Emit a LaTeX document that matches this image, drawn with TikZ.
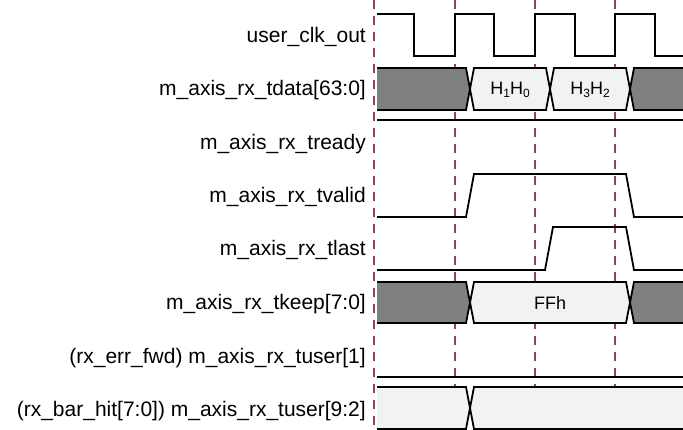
\documentclass[tikz,border=0pt]{standalone}
\usepackage{fontspec}
\setmainfont{Liberation Sans}
\definecolor{gridred}{HTML}{9A4048}
\definecolor{busdark}{HTML}{808080}
\definecolor{buslight}{HTML}{F2F2F2}
\newcommand{\subd}[1]{\raisebox{-0.3ex}{\fontsize{12}{14}\selectfont #1}}
\tikzset{
  sig/.style={line width=1.8pt, line join=miter},
  grid/.style={gridred, line width=1.3pt, dash pattern=on 9pt off 7pt},
  lbl/.style={anchor=east, font=\fontsize{21}{25}\selectfont, inner sep=0pt},
  dat/.style={font=\fontsize{18}{22}\selectfont, inner sep=0pt},
  darkbus/.style={sig, fill=busdark},
  lightbus/.style={sig, fill=buslight},
}
\begin{document}
\begin{tikzpicture}[x=1pt,y=-1pt]
\useasboundingbox (0,0) rectangle (683,430);
\clip (0,0) rectangle (683,430);
% grid lines
\foreach \gx in {374,455,535,615}
  \draw[grid] (\gx,0) -- (\gx,430);
% labels
\node[lbl] (l1) at (366,37) {user\_clk\_out};
\node[lbl] (l2) at (366,90) {m\_axis\_rx\_tdata[63:0]};
\node[lbl] (l3) at (366,144) {m\_axis\_rx\_tready};
\node[lbl] (l4) at (366,197) {m\_axis\_rx\_tvalid};
\node[lbl] (l5) at (366,250) {m\_axis\_rx\_tlast};
\node[lbl] (l6) at (366,304) {m\_axis\_rx\_tkeep[7:0]};
\node[lbl] (l7) at (366,358) {(rx\_err\_fwd) m\_axis\_rx\_tuser[1]};
\node[lbl] (l8) at (366,411) {(rx\_bar\_hit[7:0]) m\_axis\_rx\_tuser[9:2]};
% clock
\draw[sig] (377,14) -- (414,14) -- (414,56) -- (455,56) -- (455,14) -- (494,14) -- (494,56)
  -- (535,56) -- (535,14) -- (575,14) -- (575,56) -- (615,56) -- (615,14) -- (655,14)
  -- (655,56) -- (690,56);
% tdata
\fill[busdark] (377,68) -- (466,68) -- (470,89) -- (466,110) -- (377,110) -- cycle;
\draw[sig] (377,68) -- (466,68) -- (470,89) -- (466,110) -- (377,110);
\draw[lightbus] (470,89) -- (474,68) -- (546,68) -- (550,89) -- (546,110) -- (474,110) -- cycle;
\draw[lightbus] (550,89) -- (554,68) -- (626,68) -- (630,89) -- (626,110) -- (554,110) -- cycle;
\fill[busdark] (690,68) -- (634,68) -- (630,89) -- (634,110) -- (690,110) -- cycle;
\draw[sig] (690,68) -- (634,68) -- (630,89) -- (634,110) -- (690,110);
\node[dat] (d1) at (510,90) {H\subd{1}H\subd{0}};
\node[dat] (d2) at (590,90) {H\subd{3}H\subd{2}};
% tready
\draw[sig] (377,120) -- (690,120);
% tvalid
\draw[sig] (377,217) -- (466,217) -- (474,174) -- (626,174) -- (634,217) -- (690,217);
% tlast
\draw[sig] (377,270) -- (545,270) -- (553,227) -- (626,227) -- (634,270) -- (690,270);
% tkeep
\fill[busdark] (377,282) -- (466,282) -- (470,302.5) -- (466,323) -- (377,323) -- cycle;
\draw[sig] (377,282) -- (466,282) -- (470,302.5) -- (466,323) -- (377,323);
\draw[lightbus] (470,302.5) -- (474,282) -- (626,282) -- (630,302.5) -- (626,323) -- (474,323) -- cycle;
\fill[busdark] (690,282) -- (634,282) -- (630,302.5) -- (634,323) -- (690,323) -- cycle;
\draw[sig] (690,282) -- (634,282) -- (630,302.5) -- (634,323) -- (690,323);
\node[dat] (d3) at (550,303) {FFh};
% tuser[1]
\draw[sig] (377,377) -- (690,377);
% tuser[9:2]
\fill[buslight] (377,387) -- (466,387) -- (470,408) -- (466,429) -- (377,429) -- cycle;
\draw[sig] (377,387) -- (466,387) -- (470,408) -- (466,429) -- (377,429);
\fill[buslight] (690,387) -- (474,387) -- (470,408) -- (474,429) -- (690,429) -- cycle;
\draw[sig] (690,387) -- (474,387) -- (470,408) -- (474,429) -- (690,429);
\end{tikzpicture}
\end{document}
